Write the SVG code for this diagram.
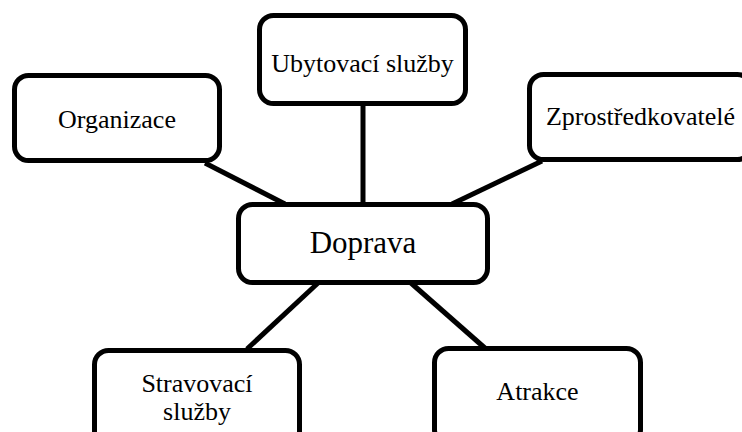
<svg xmlns="http://www.w3.org/2000/svg" width="742" height="432" viewBox="0 0 742 432">
<style>
.box{fill:#fff;stroke:#000;stroke-width:5}
.lbl{font-family:"Liberation Serif","Times New Roman",serif;font-size:26px;fill:#000;text-anchor:middle}
.big{font-size:31px}
.conn line{stroke:#000;stroke-width:5}
</style>
<rect width="742" height="432" fill="#fff"/>
<g id="connectors" class="conn">
<line x1="205" y1="163" x2="285" y2="204"/>
<line x1="363" y1="104" x2="363" y2="204"/>
<line x1="542" y1="161" x2="452" y2="204"/>
<line x1="318" y1="283" x2="247" y2="349"/>
<line x1="411" y1="283" x2="486" y2="349"/>
</g>
<g id="organizace"><rect class="box" x="14.5" y="75.5" width="205" height="85" rx="14"/><text class="lbl" x="117" y="128">Organizace</text></g>
<g id="ubytovaci"><rect class="box" x="259.5" y="15.5" width="206" height="88" rx="14"/><text class="lbl" x="362.5" y="72">Ubytovací služby</text></g>
<g id="zprostredkovatele"><rect class="box" x="529.5" y="74.5" width="222" height="85" rx="14"/><text class="lbl" x="640.5" y="125">Zprostředkovatelé</text></g>
<g id="doprava"><rect class="box" x="238.5" y="204.5" width="249" height="78" rx="14"/><text class="lbl big" x="363" y="253">Doprava</text></g>
<g id="stravovaci"><rect class="box" x="94.5" y="350.5" width="205" height="95" rx="14"/><text class="lbl" x="197" y="392">Stravovací</text><text class="lbl" x="197" y="420">služby</text></g>
<g id="atrakce"><rect class="box" x="434.5" y="348.5" width="206" height="95" rx="14"/><text class="lbl" x="537.5" y="400">Atrakce</text></g>
</svg>
